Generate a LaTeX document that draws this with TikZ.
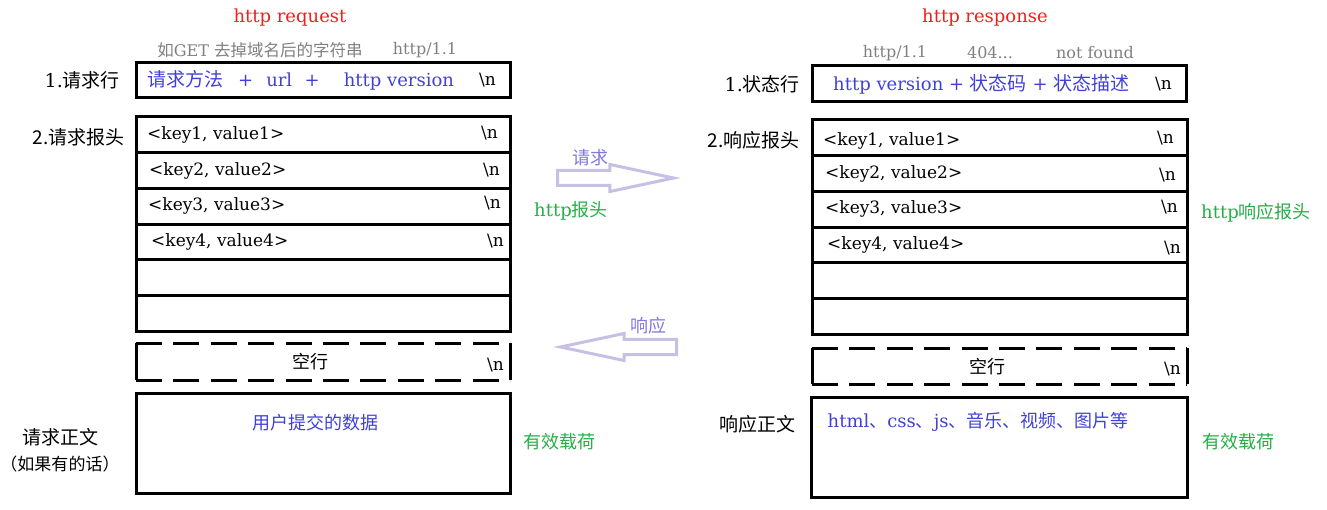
\documentclass[tikz,border=0pt]{standalone}
\usepackage{fontspec}
\setmainfont{DejaVu Serif}
\newfontfamily\zh{Noto Sans CJK SC}
\usetikzlibrary{positioning,shapes.arrows}

\definecolor{txtblue}{RGB}{64,64,215}
\definecolor{txtgray}{RGB}{128,128,128}
\definecolor{txtred}{RGB}{240,30,30}
\definecolor{txtgreen}{RGB}{35,175,70}
\definecolor{arrowlav}{RGB}{200,192,228}
\definecolor{arrowtxt}{RGB}{130,120,225}

\begin{document}
\begin{tikzpicture}[x=1pt, y=-1pt,
  font=\fontsize{17}{20}\selectfont,
  frame/.style={draw, line width=3pt, minimum width=374pt,
                outer sep=0pt, inner sep=0pt},
  row/.style={frame, minimum height=35.7pt},
  gap/.style={minimum width=374pt, minimum height=37pt,
              outer sep=0pt, inner sep=0pt},
  kv/.style={anchor=west, inner sep=0pt},
  nl/.style={anchor=east, inner sep=0pt},
  side/.style={font=\zh\fontsize{19}{24}\selectfont, inner sep=0pt},
  title/.style={text=txtred, font=\fontsize{18}{20}\selectfont, inner sep=0pt},
  hint/.style={text=txtgray, font=\fontsize{16}{18}\selectfont, inner sep=0pt},
  blue/.style={text=txtblue, font=\fontsize{18}{20}\selectfont, inner sep=0pt},
  note/.style={text=txtgreen, font=\zh\fontsize{18}{20}\selectfont, inner sep=0pt},
  bigarrow/.style={single arrow, draw=arrowlav, line width=3pt, fill=white,
                   minimum height=116pt, inner sep=6pt,
                   single arrow head extend=6pt, single arrow tip angle=24},
  arrowlbl/.style={text=arrowtxt, font=\zh\fontsize{18}{20}\selectfont,
                   inner sep=0pt},
  dashline/.style={line width=3pt, dash pattern=on 26pt off 11.4pt},
  solidline/.style={line width=3pt}]
\useasboundingbox (0,0) rectangle (1327,510);

% request side
\node[title] (reqtitle) at (290,18) {http request};
\node[hint] (reqhint1) at (260,50)
  {{\zh\fontsize{16.5}{18}\selectfont 如}GET {\zh\fontsize{16.5}{18}\selectfont 去掉域名后的字符串}};
\node[hint] (reqhint2) at (425,50) {http/1.1};

\node[frame, minimum height=35pt, anchor=north west] (reqline) at (136,63) {};
\node[blue, kv, right=11pt of reqline.west] (reqlinetxt)
  {{\zh\fontsize{19}{20}\selectfont 请求方法}\hspace{15pt}+\hspace{13pt}url\hspace{12.5pt}+\hspace{24pt}http version};
\node[nl, left=14pt of reqline.east] (reqlinenl) {\textbackslash n};
\node[side, left=16pt of reqline] (reqlinelbl) {{\rmfamily 1.}请求行};

\node[row, anchor=north west] (reqh1) at (136,117) {};
\node[row, below=0pt of reqh1] (reqh2) {};
\node[row, below=0pt of reqh2] (reqh3) {};
\node[row, below=0pt of reqh3] (reqh4) {};
\node[row, below=0pt of reqh4] (reqh5) {};
\node[row, below=0pt of reqh5] (reqh6) {};
\node[kv, right=11pt of reqh1.west] (reqk1) {<key1, value1>};
\node[kv, right=13pt of reqh2.west] (reqk2) {<key2, value2>};
\node[kv, right=12pt of reqh3.west] (reqk3) {<key3, value3>};
\node[kv, right=15pt of reqh4.west] (reqk4) {<key4, value4>};
\node[nl, left=12pt of reqh1.east, yshift=2pt] (reqn1) {\textbackslash n};
\node[nl, left=10pt of reqh2.east] (reqn2) {\textbackslash n};
\node[nl, left=9pt of reqh3.east, yshift=3pt] (reqn3) {\textbackslash n};
\node[nl, left=6pt of reqh4.east, yshift=1pt] (reqn4) {\textbackslash n};
\node[side, left=11pt of reqh1, yshift=-2pt] (reqhlbl) {2.请求报头};

\node[gap, below=12pt of reqh6] (reqblank) {};
\draw[solidline] (reqblank.north west) -- (reqblank.south west)
                 (reqblank.north east) -- (reqblank.south east);
\draw[dashline] (reqblank.north west) -- (reqblank.north east)
                (reqblank.south west) -- (reqblank.south east);
\node[side, font=\zh\fontsize{18}{20}\selectfont] (reqblanktxt)
  at ([xshift=-13pt]reqblank.center) {空行};
\node[nl, left=6pt of reqblank.east, yshift=-3pt] (reqblanknl) {\textbackslash n};

\node[frame, minimum height=100pt, below=13pt of reqblank] (reqbody) {};
\node[blue, font=\zh\fontsize{18}{20}\selectfont, below=21pt of reqbody.north,
      xshift=-8pt] (reqbodytxt) {用户提交的数据};
\node[side, align=center] (reqbodylbl) at (60,450)
  {请求正文\\[2pt]{\fontsize{17}{20}\selectfont （如果有的话）}};
\node[note, right=13pt of reqbody, yshift=2pt] (reqload) {有效载荷};

% arrows between the two sides
\node[bigarrow, anchor=tail] (reqarrow) at (556,178) {};
\node[arrowlbl] (reqarrowlbl) at (590,158) {请求};
\node[note, font=\fontsize{18}{20}\selectfont] (reqhdrnote) at (571,211)
  {http{\zh 报头}};
\node[bigarrow, shape border rotate=180, anchor=tail] (resarrow) at (678,347) {};
\node[arrowlbl] (resarrowlbl) at (648,326) {响应};

% response side
\node[title] (restitle) at (985,18) {http response};
\node[hint] (reshint1) at (895,53) {http/1.1};
\node[hint] (reshint2) at (990,53) {404...};
\node[hint] (reshint3) at (1095,53) {not found};

\node[frame, minimum height=36pt, anchor=north west] (statline) at (812,66) {};
\node[blue, kv, right=21pt of statline.west] (statlinetxt)
  {http version + {\zh\fontsize{19}{20}\selectfont 状态码} + {\zh\fontsize{19}{20}\selectfont 状态描述}};
\node[nl, left=14pt of statline.east] (statlinenl) {\textbackslash n};
\node[side, left=12pt of statline] (statlinelbl) {{\rmfamily 1.}状态行};

\node[row, anchor=north west, minimum width=375pt] (resh1) at (812,120) {};
\node[row, minimum width=375pt, below=0pt of resh1] (resh2) {};
\node[row, minimum width=375pt, below=0pt of resh2] (resh3) {};
\node[row, minimum width=375pt, below=0pt of resh3] (resh4) {};
\node[row, minimum width=375pt, below=0pt of resh4] (resh5) {};
\node[row, minimum width=375pt, below=0pt of resh5] (resh6) {};
\node[kv, right=11pt of resh1.west, yshift=-3pt] (resk1) {<key1, value1>};
\node[kv, right=13pt of resh2.west] (resk2) {<key2, value2>};
\node[kv, right=13pt of resh3.west] (resk3) {<key3, value3>};
\node[kv, right=15pt of resh4.west] (resk4) {<key4, value4>};
\node[nl, left=13pt of resh1.east] (resn1) {\textbackslash n};
\node[nl, left=11pt of resh2.east, yshift=-2pt] (resn2) {\textbackslash n};
\node[nl, left=9pt of resh3.east, yshift=2pt] (resn3) {\textbackslash n};
\node[nl, left=6pt of resh4.east, yshift=-3pt] (resn4) {\textbackslash n};
\node[side, left=12pt of resh1, yshift=-2pt] (reshlbl) {2.响应报头};
\node[note, font=\fontsize{18}{20}\selectfont, right=14pt of resh3,
      yshift=-3pt] (reshdrnote) {http{\zh 响应报头}};

\node[gap, minimum width=375pt, minimum height=36pt, below=14pt of resh6] (resblank) {};
\draw[solidline] (resblank.north west) -- (resblank.south west)
                 (resblank.north east) -- (resblank.south east);
\draw[dashline] (resblank.north west) -- (resblank.north east)
                (resblank.south west) -- (resblank.south east);
\node[side, font=\zh\fontsize{18}{20}\selectfont] (resblanktxt)
  at ([xshift=-12pt]resblank.center) {空行};
\node[nl, left=6pt of resblank.east, yshift=-3pt] (resblanknl) {\textbackslash n};

\node[frame, minimum width=376pt, minimum height=100pt, below=13pt of resblank] (resbody) {};
\node[blue, kv] (resbodytxt) at ([shift={(16,25)}]resbody.north west)
  {html{\zh 、}css{\zh 、}js{\zh 、音乐、视频、图片等}};
\node[side] (resbodylbl) at (757,424) {响应正文};
\node[note, right=15pt of resbody, yshift=6pt] (resload) {有效载荷};
\end{tikzpicture}
\end{document}
